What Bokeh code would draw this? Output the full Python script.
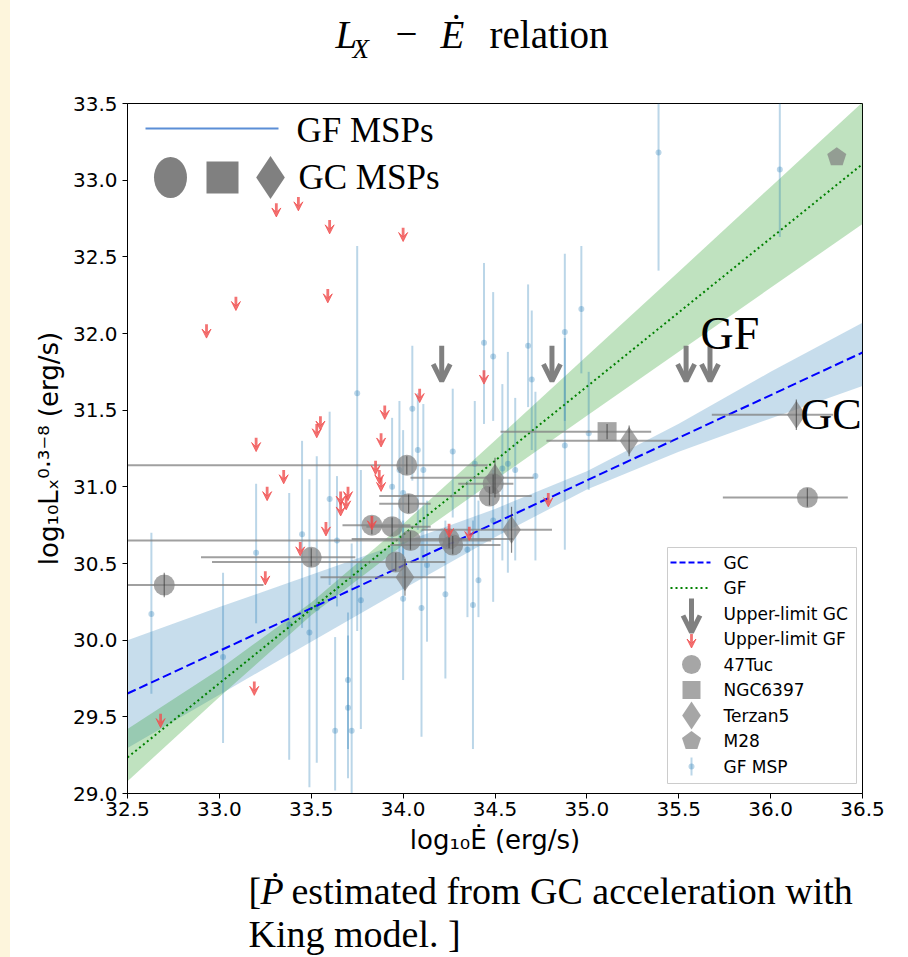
import numpy as np
from bokeh.plotting import figure
from bokeh.models import (ColumnDataSource, Range1d, Label, Arrow, VeeHead, OpenHead, Spacer)
from bokeh.layouts import row, column
from bokeh.embed import file_html
from bokeh.resources import INLINE

# ---------------- data ----------------
x_ticks = [32.5, 33.0, 33.5, 34.0, 34.5, 35.0, 35.5, 36.0, 36.5]
x_tick_labels = ["32.5", "33.0", "33.5", "34.0", "34.5", "35.0", "35.5", "36.0", "36.5"]
y_ticks = [29.0, 29.5, 30.0, 30.5, 31.0, 31.5, 32.0, 32.5, 33.0, 33.5]
y_tick_labels = ["29.0", "29.5", "30.0", "30.5", "31.0", "31.5", "32.0", "32.5", "33.0", "33.5"]

# fitted relations
fit_x = [32.5, 36.5]
gc_fit_y = [29.652, 31.876]
gf_fit_y = [29.235, 33.105]

# confidence bands
band_x = [32.5, 33.0, 33.5, 34.0, 34.5, 35.0, 35.5, 36.0, 36.5]
gc_band_lo = [29.297, 29.644, 29.990, 30.334, 30.672, 30.982, 31.228, 31.446, 31.658]
gc_band_hi = [30.000, 30.216, 30.426, 30.638, 30.856, 31.102, 31.412, 31.750, 32.070]
gf_band_lo = [29.080, 29.629, 30.162, 30.621, 31.044, 31.463, 31.881, 32.298, 32.714]
gf_band_hi = [29.420, 29.811, 30.246, 30.757, 31.302, 31.853, 32.403, 32.956, 33.508]

# Galactic-field MSPs (value, lower and upper end of error bar)
gf_x = [32.63, 33.02, 33.20, 33.38, 33.45, 33.49, 33.53, 33.60, 33.64, 33.63,
        33.70, 33.70, 33.72, 33.75, 33.77, 33.94, 33.98, 34.00, 34.00, 34.05,
        34.08, 34.10, 34.11, 34.13, 34.23, 34.27, 34.35, 34.38, 34.41, 34.39,
        34.44, 34.49, 34.49, 34.54, 34.57, 34.61, 34.68, 34.70, 34.72, 34.88,
        34.88, 34.97, 35.01, 35.39, 36.05]
gf_y = [30.17, 29.89, 30.57, 30.10, 30.69, 30.05, 30.21, 30.92, 30.65, 29.41,
        29.74, 29.56, 29.41, 31.61, 30.26, 31.00, 31.11, 30.27, 30.96, 31.51,
        31.24, 30.21, 31.11, 30.49, 30.30, 31.23, 30.59, 30.23, 30.39, 31.15,
        31.94, 31.85, 30.78, 31.12, 31.15, 31.11, 31.92, 31.70, 31.07, 32.01,
        31.27, 32.16, 31.35, 33.18, 33.07]
gf_lo = [29.65, 29.33, 30.11, 29.22, 30.08, 29.04, 29.20, 30.36, 30.22, 29.02,
         29.10, 29.29, 28.95, 30.06, 29.42, 30.45, 30.52, 29.74, 30.52, 31.04,
         30.72, 29.37, 30.52, 29.99, 29.75, 30.80, 30.15, 29.29, 30.15, 30.72,
         31.41, 31.43, 30.25, 30.52, 30.44, 30.52, 31.52, 31.24, 30.52, 31.43,
         30.59, 31.74, 30.98, 32.41, 32.63]
gf_hi = [30.70, 30.44, 31.02, 30.96, 31.30, 31.05, 31.20, 31.49, 31.07, 30.02,
         30.18, 30.03, 30.63, 32.57, 31.11, 31.45, 31.56, 30.78, 31.37, 31.92,
         31.61, 30.72, 31.54, 30.91, 30.78, 31.64, 31.04, 30.78, 30.91, 31.56,
         32.46, 32.27, 31.11, 31.67, 31.88, 31.58, 32.32, 32.15, 31.62, 32.52,
         31.97, 32.57, 31.75, 33.78, 33.78]

# Globular-cluster MSPs
tuc_x = [32.70, 33.50, 34.02, 34.03, 33.83, 33.94, 34.04, 33.96, 34.25, 34.27, 34.47, 34.49, 36.20]
tuc_y = [30.36, 30.54, 31.14, 30.89, 30.75, 30.74, 30.65, 30.51, 30.66, 30.62, 30.94, 31.02, 30.93]
tuc_xlo = [32.30, 32.90, 32.30, 33.87, 33.67, 33.80, 32.30, 32.96, 33.72, 33.93, 33.87, 34.30, 35.74]
tuc_xhi = [33.24, 33.74, 34.46, 34.15, 34.04, 34.15, 34.48, 34.23, 34.60, 34.53, 34.70, 34.60, 36.42]
tuc_yerr = [0.08, 0.06, 0.06, 0.06, 0.06, 0.06, 0.06, 0.06, 0.06, 0.06, 0.06, 0.06, 0.06]

ter_x = [34.01, 34.50, 34.59, 35.23, 36.14]
ter_y = [30.41, 31.06, 30.72, 31.30, 31.47]
ter_xlo = [33.55, 34.04, 34.10, 34.78, 35.68]
ter_xhi = [34.23, 34.71, 34.81, 35.46, 36.34]
ter_yerr = [0.12, 0.13, 0.15, 0.10, 0.10]

ngc_x = [35.11]
ngc_y = [31.36]
ngc_xlo = [34.53]
ngc_xhi = [35.35]
ngc_yerr = [0.05]

m28_x = [36.36]
m28_y = [33.15]

# upper limits
ul_gc_x = [34.21, 34.81, 35.54, 35.67]
ul_gc_y = [31.92, 31.92, 31.92, 31.92]
ul_gf_x = [32.93, 33.09, 33.31, 33.43, 33.60, 33.59, 34.00, 33.20, 33.55, 33.53,
           33.35, 33.26, 33.90, 33.88, 34.09, 34.44, 33.85, 33.87, 33.88, 33.70,
           33.66, 33.69, 33.66, 33.58, 33.44, 33.83, 34.25, 34.36, 33.25, 32.68,
           33.19, 34.79]
ul_gf_y = [32.06, 32.24, 32.85, 32.89, 32.74, 32.29, 32.69, 31.32, 31.46, 31.41,
           31.11, 31.00, 31.53, 31.35, 31.64, 31.76, 31.17, 31.11, 31.06, 31.00,
           30.97, 30.94, 30.90, 30.77, 30.64, 30.81, 30.76, 30.74, 30.45, 29.52,
           29.73, 30.96]

legend_labels = ["GC", "GF", "Upper-limit GC", "Upper-limit GF", "47Tuc",
                 "NGC6397", "Terzan5", "M28", "GF MSP"]

# ---------------- styles / layout ----------------
GC_ARROW_LEN = 0.23
GF_ARROW_LEN = 0.09
GREY = "#808080"
MSP_BLUE = "#1f77b4"
RED = "#f05050"
SERIF = "Liberation Serif"

PAGE_W, PAGE_H = 908, 957
STRIP_W = 10
FIG_W = PAGE_W - STRIP_W
TITLE_H = 68
NOTE_H = 93
MAIN_H = PAGE_H - TITLE_H - NOTE_H
FRAME_W, FRAME_H = 735, 690
FL, FT = 127, 103                 # page position of the frame's left / top
FB = FT + FRAME_H
PENT_R = 10                       # pentagon marker radius (px)
PX_PER_X = FRAME_W / (36.5 - 32.5)
PX_PER_Y = FRAME_H / (33.5 - 29.0)
MID = 0.34                        # baseline offset of a "middle" aligned text, in em

p = figure(width=FIG_W, height=MAIN_H, x_range=Range1d(32.5, 36.5), y_range=Range1d(29.0, 33.5),
           output_backend="svg", toolbar_location=None, title=None,
           min_border_left=FL - STRIP_W, min_border_right=PAGE_W - FL - FRAME_W,
           min_border_top=FT - TITLE_H, min_border_bottom=MAIN_H - (FT - TITLE_H) - FRAME_H)
p.extra_x_ranges = {"ov": Range1d(0, FRAME_W)}
p.extra_y_ranges = {"ov": Range1d(0, FRAME_H)}

p.grid.visible = False
p.outline_line_color = "black"
p.outline_line_width = 1
p.background_fill_color = "white"
p.border_fill_color = "white"

p.xaxis.ticker = x_ticks
p.xaxis.major_label_overrides = dict(zip(x_ticks, x_tick_labels))
p.yaxis.ticker = y_ticks
p.yaxis.major_label_overrides = dict(zip(y_ticks, y_tick_labels))
for ax in (p.xaxis, p.yaxis):
    ax.minor_tick_line_color = None
    ax.major_tick_out = 5
    ax.major_tick_in = 0
    ax.axis_line_color = "black"
    ax.major_tick_line_color = "black"
    ax.major_label_text_font = "DejaVu Sans"
    ax.major_label_text_font_size = "20px"
    ax.major_label_text_color = "black"
    ax.axis_label_text_font = "DejaVu Sans"
    ax.axis_label_text_font_size = "26px"
    ax.axis_label_text_font_style = "normal"
    ax.axis_label_text_color = "black"
p.xaxis.axis_label = "log₁₀Ė (erg/s)"
p.yaxis.axis_label = "log₁₀Lₓ⁰·³⁻⁸ (erg/s)"
p.xaxis.major_label_standoff = 3
p.xaxis.axis_label_standoff = 6
p.yaxis.major_label_standoff = 5
p.yaxis.axis_label_standoff = 6

# bands
p.varea(x=band_x, y1=gc_band_lo, y2=gc_band_hi, fill_color=MSP_BLUE, fill_alpha=0.25)
p.varea(x=band_x, y1=gf_band_lo, y2=gf_band_hi, fill_color="#2ca02c", fill_alpha=0.3)

# GF MSPs
gf_src = ColumnDataSource(dict(x=gf_x, y=gf_y, lo=gf_lo, hi=gf_hi))
p.segment(x0="x", y0="lo", x1="x", y1="hi", source=gf_src, line_color=MSP_BLUE, line_alpha=0.3, line_width=2)
p.scatter(x="x", y="y", source=gf_src, marker="circle", size=6, fill_color=MSP_BLUE,
          fill_alpha=0.3, line_color=None)

# fit lines
p.line(fit_x, gc_fit_y, line_color="blue", line_width=2, line_dash="9 4")
p.line(fit_x, gf_fit_y, line_color="green", line_width=2, line_dash="2 3")


# GC MSPs
def gc_group(xs, ys, xlo, xhi, yerr):
    src = ColumnDataSource(dict(x=xs, y=ys, xlo=xlo, xhi=xhi,
                                ylo=[a - b for a, b in zip(ys, yerr)],
                                yhi=[a + b for a, b in zip(ys, yerr)]))
    p.segment(x0="xlo", y0="y", x1="xhi", y1="y", source=src, line_color=GREY, line_alpha=0.75, line_width=2)
    return src


tuc_src = gc_group(tuc_x, tuc_y, tuc_xlo, tuc_xhi, tuc_yerr)
ter_src = gc_group(ter_x, ter_y, ter_xlo, ter_xhi, ter_yerr)
ngc_src = gc_group(ngc_x, ngc_y, ngc_xlo, ngc_xhi, ngc_yerr)

p.scatter(x="x", y="y", source=tuc_src, marker="circle", size=21, fill_color=GREY,
          fill_alpha=0.7, line_color=None)
p.scatter(x="x", y="y", source=ngc_src, marker="square", size=19, fill_color=GREY,
          fill_alpha=0.7, line_color=None)
p.scatter(x="x", y="y", source=ter_src, marker="diamond", size=28, fill_color=GREY,
          fill_alpha=0.7, line_color=None)

pent_ang = np.pi / 2 + 2 * np.pi * np.arange(5) / 5
m28_xs = [list(cx + PENT_R * np.cos(pent_ang) / PX_PER_X) for cx in m28_x]
m28_ys = [list(cy + PENT_R * np.sin(pent_ang) / PX_PER_Y) for cy in m28_y]
p.patches(xs=m28_xs, ys=m28_ys, fill_color=GREY, fill_alpha=0.7, line_color=None)

for src in (tuc_src, ter_src, ngc_src):
    p.segment(x0="x", y0="ylo", x1="x", y1="yhi", source=src, line_color="#303030", line_alpha=0.6, line_width=1.2)

# upper limits (arrows)
ul_gc_src = ColumnDataSource(dict(x=ul_gc_x, y0=ul_gc_y, y1=[v - GC_ARROW_LEN for v in ul_gc_y]))
p.add_layout(Arrow(end=OpenHead(size=17, line_width=5, line_color=GREY), x_start="x", y_start="y0",
                   x_end="x", y_end="y1", source=ul_gc_src, line_color=GREY, line_width=5))
ul_gf_src = ColumnDataSource(dict(x=ul_gf_x, y0=ul_gf_y, y1=[v - GF_ARROW_LEN for v in ul_gf_y]))
p.add_layout(Arrow(end=VeeHead(size=9, fill_color=RED, line_color=RED, fill_alpha=0.8, line_alpha=0.8),
                   x_start="x", y_start="y0", x_end="x", y_end="y1", source=ul_gf_src,
                   line_color=RED, line_width=2.8, line_alpha=0.8))


def frame_text(txt, px, py, size, style="normal", font=SERIF, baseline="middle"):
    """text placed by page pixel position, inside the main frame"""
    p.add_layout(Label(x=px - FL, y=FB - py, x_units="screen", y_units="screen", text=txt,
                       text_font=font, text_font_size=f"{size}px", text_font_style=style,
                       text_baseline=baseline, text_align="left", text_color="black"))


# ---------------- legend (bottom right, frame pixel coordinates) ----------------
OV = dict(x_range_name="ov", y_range_name="ov")
LEG_L, LEG_R, LEG_T, LEG_B = 540, 729, 246, 10
LEG_GX, LEG_TX = 564, 596
LEG_ROW0, LEG_ROW_H = 231, 25.5
rows = [LEG_ROW0 - i * LEG_ROW_H for i in range(len(legend_labels))]

p.quad(left=[LEG_L], right=[LEG_R], top=[LEG_T], bottom=[LEG_B], fill_color="white", fill_alpha=0.85,
       line_color="#cccccc", line_width=1, **OV)
p.line(x=[LEG_GX - 21, LEG_GX + 19], y=[rows[0]] * 2, line_color="blue", line_width=2, line_dash="6 3", **OV)
p.line(x=[LEG_GX - 21, LEG_GX + 19], y=[rows[1]] * 2, line_color="green", line_width=2, line_dash="2 3", **OV)
p.add_layout(Arrow(end=OpenHead(size=17, line_width=5, line_color=GREY), x_start=LEG_GX, y_start=rows[2] + 15,
                   x_end=LEG_GX, y_end=rows[2] - 19, line_color=GREY, line_width=5, **OV))
p.add_layout(Arrow(end=VeeHead(size=9, fill_color=RED, line_color=RED, fill_alpha=0.8, line_alpha=0.8),
                   x_start=LEG_GX, y_start=rows[3] + 5, x_end=LEG_GX, y_end=rows[3] - 9,
                   line_color=RED, line_width=2.8, line_alpha=0.8, **OV))
p.scatter(x=[LEG_GX], y=[rows[4]], marker="circle", size=19, fill_color=GREY, fill_alpha=0.7,
          line_color=None, **OV)
p.scatter(x=[LEG_GX], y=[rows[5]], marker="square", size=18, fill_color=GREY, fill_alpha=0.7,
          line_color=None, **OV)
p.scatter(x=[LEG_GX], y=[rows[6]], marker="diamond", size=28, fill_color=GREY, fill_alpha=0.7,
          line_color=None, **OV)
p.patches(xs=[list(LEG_GX + PENT_R * np.cos(pent_ang))], ys=[list(rows[7] + PENT_R * np.sin(pent_ang))],
          fill_color=GREY, fill_alpha=0.7, line_color=None, **OV)
p.segment(x0=[LEG_GX], y0=[rows[8] - 9], x1=[LEG_GX], y1=[rows[8] + 9], line_color=MSP_BLUE,
          line_alpha=0.3, line_width=2, **OV)
p.scatter(x=[LEG_GX], y=[rows[8]], marker="circle", size=6, fill_color=MSP_BLUE, fill_alpha=0.3,
          line_color=None, **OV)
for lbl, ry in zip(legend_labels, rows):
    p.add_layout(Label(x=LEG_TX, y=ry, x_units="screen", y_units="screen", text=lbl,
                       text_font="DejaVu Sans", text_font_size="17px", text_baseline="middle",
                       text_color="black"))

# ---------------- slide annotations: top-left key ----------------
p.line(x=[18, 151], y=[665, 665], line_color="#5b8ed6", line_width=2, **OV)
p.ellipse(x=[43], y=[616], width=33, height=41, width_units="screen", height_units="screen",
          fill_color=GREY, line_color=None, **OV)
p.scatter(x=[95], y=[616], marker="square", size=32, fill_color=GREY, line_color=None, **OV)
p.scatter(x=[143], y=[616], marker="diamond", size=43, fill_color=GREY, line_color=None, **OV)

frame_text("GF MSPs", 296, 130, 35)
frame_text("GC MSPs", 298, 177, 35)
frame_text("GF", 700, 333, 46)
frame_text("GC", 800, 414, 44)


# ---------------- title and note (separate strips so they are not clipped) ----------------
# In the column the strips' frames are aligned with the main frame (page x 127..862).
def text_strip(h):
    f = figure(width=FIG_W, height=h, x_range=Range1d(0, 1), y_range=Range1d(0, 1),
               output_backend="svg", toolbar_location=None, title=None, min_border=0,
               x_axis_location=None, y_axis_location=None)
    f.grid.visible = False
    f.outline_line_color = None
    f.background_fill_color = "white"
    f.border_fill_color = "white"
    return f


def strip_text(f, bottom, txt, px, baseline_py, size, style="normal"):
    """px: page x of the text start, baseline_py: page y of the text baseline"""
    f.add_layout(Label(x=px - FL, y=bottom - baseline_py + MID * size, x_units="screen", y_units="screen",
                       text=txt, text_font=SERIF, text_font_size=f"{size}px", text_font_style=style,
                       text_baseline="middle", text_align="left", text_color="black"))


title_fig = text_strip(TITLE_H)
strip_text(title_fig, TITLE_H, "L", 335, 47, 39, "italic")
strip_text(title_fig, TITLE_H, "X", 352, 58, 27, "italic")
strip_text(title_fig, TITLE_H, "−", 395, 47, 39)
strip_text(title_fig, TITLE_H, "Ė", 440, 47, 39, "italic")
strip_text(title_fig, TITLE_H, "relation", 489, 47, 39)

note_fig = text_strip(NOTE_H)
strip_text(note_fig, PAGE_H, "[", 248, 903, 38)
strip_text(note_fig, PAGE_H, "Ṗ", 260, 903, 38, "italic")
strip_text(note_fig, PAGE_H, "estimated from GC acceleration with", 291, 903, 38)
strip_text(note_fig, PAGE_H, "King model. ]", 248, 946, 38)

strip = Spacer(width=STRIP_W, height=PAGE_H, styles={"background-color": "#fdf5dc"})
layout = row(strip, column(title_fig, p, note_fig, spacing=0), spacing=0)

open("out.html", "w").write(file_html(layout, INLINE))
